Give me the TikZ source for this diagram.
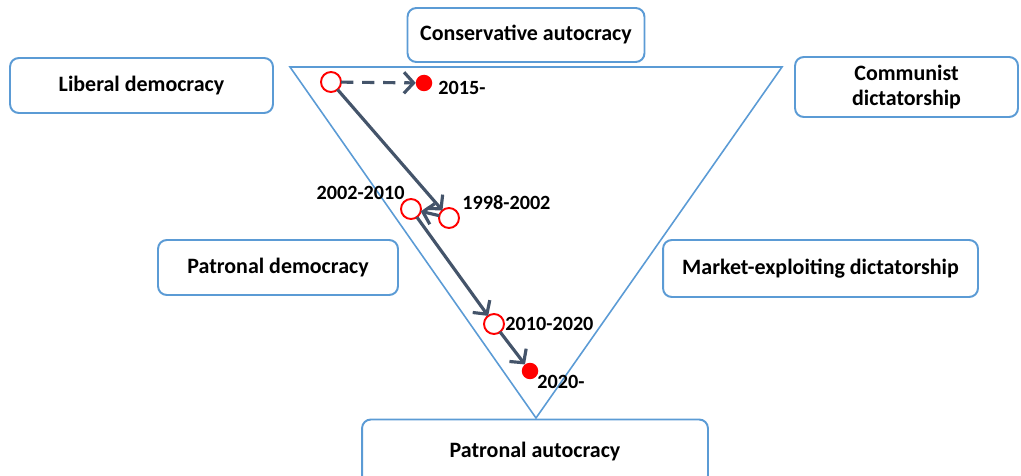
\documentclass[tikz,border=0pt]{standalone}
\usepackage{fontspec}
\setmainfont{Carlito}
\usetikzlibrary{arrows.meta}
\usetikzlibrary{positioning}
\definecolor{boxblue}{HTML}{5B9BD5}
\definecolor{arrowgray}{HTML}{44546A}
\definecolor{dotred}{HTML}{FF0000}
\tikzset{
regime/.style = {draw=boxblue, line width=1.1pt, rounded corners=5pt,
                 fill=white, align=center, inner sep=2pt,
                 font=\bfseries\fontsize{12.5}{14.5}\selectfont},
opendot/.style = {circle, draw=dotred, fill=white, line width=1.1pt,
                  minimum size=0.4cm, inner sep=0pt, outer sep=0pt},
fulldot/.style = {circle, fill=dotred, minimum size=0.33cm,
                  inner sep=0pt, outer sep=0pt},
yearlbl/.style = {font=\bfseries\fontsize{11.5}{13}\selectfont, inner sep=0pt},
move/.style = {draw=arrowgray, line width=1.8pt,
               -{Straight Barb[length=5.5pt, width=12pt]}}
}

\begin{document}
\begin{tikzpicture}[x=0.02cm, y=-0.02cm]
    \useasboundingbox (0,0) rectangle (1021,476);

    % the triangle
    \draw[boxblue, line width=0.9pt] (290,67) -- (782,67) -- (536,418) -- cycle;

    % regimes
    \node[regime, minimum width=4.74cm, minimum height=1.08cm] (cons) at (526,35) {Conservative autocracy};
    \node[regime, minimum width=5.26cm, minimum height=1.1cm] (lib) at (141.5,85.5) {Liberal democracy};
    \node[regime, minimum width=4.46cm, minimum height=1.2cm] (comm) at (906.5,87) {Communist\\dictatorship};
    \node[regime, minimum width=4.8cm, minimum height=1.1cm] (patdem) at (278,267.5) {Patronal democracy};
    \node[regime, minimum width=6.3cm, minimum height=1.14cm] (market) at (820.5,268.5) {Market-exploiting dictatorship};
    \node[regime, minimum width=6.92cm, minimum height=1.3cm] (patauto) at (535,452) {Patronal autocracy};

    % positions in time
    \node[opendot] (start) at (331,82) {};
    \node[fulldot] (p2015) at (424,83) {};
    \node[opendot] (p1998) at (449,218) {};
    \node[opendot] (p2002) at (411,209) {};
    \node[opendot] (p2010) at (494,324) {};
    \node[fulldot] (p2020) at (530,371) {};

    \node[yearlbl, anchor=west] (t2015) at (438,88) {2015-};
    \node[yearlbl, anchor=west] (t1998) at (462,203) {1998-2002};
    \node[yearlbl, anchor=east] (t2002) at (405,193) {2002-2010};
    \node[yearlbl, anchor=west] (t2010) at (505,324) {2010-2020};
    \node[yearlbl, anchor=west] (t2020) at (537,382) {2020-};

    \path
    (start) edge[move, dash pattern=on 7pt off 5pt] (p2015)
    (start) edge[move] (p1998)
    (p1998) edge[move] (p2002)
    (p2002) edge[move] (p2010)
    (p2010) edge[move] (p2020);
\end{tikzpicture}
\end{document}
